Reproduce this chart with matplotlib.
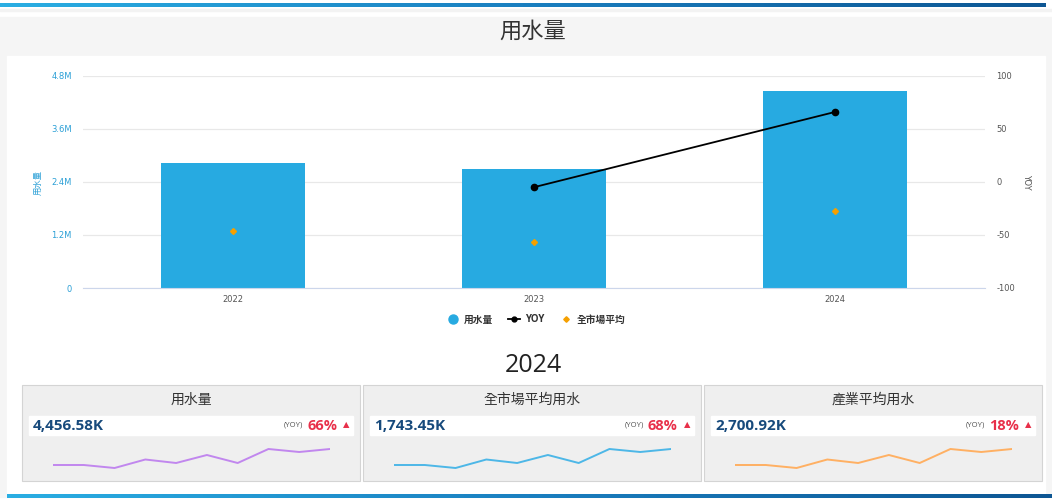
import numpy as np
import matplotlib
matplotlib.use("Agg")
import matplotlib.pyplot as plt
from matplotlib.patches import Rectangle
from matplotlib.colors import LinearSegmentedColormap
from matplotlib.lines import Line2D

plt.rcParams["font.family"] = ["Open Sans", "Noto Sans CJK TC", "DejaVu Sans"]
TICK_FONT = ["DejaVu Sans", "Noto Sans CJK TC"]

W, H = 1052, 500

# main chart data
years = ["2022", "2023", "2024"]
usage = [2823000, 2684700, 4456580]
yoy = [np.nan, -4.9, 66]
market_avg = [1284000, 1037800, 1743450]
usage_ticks = [0, 1.2e6, 2.4e6, 3.6e6, 4.8e6]
usage_tick_labels = ["0", "1.2M", "2.4M", "3.6M", "4.8M"]
yoy_ticks = [-100, -50, 0, 50, 100]

# KPI cards
card_titles = ["用水量", "全市場平均用水", "產業平均用水"]
card_values = ["4,456.58K", "1,743.45K", "2,700.92K"]
card_yoy = ["66%", "68%", "18%"]
spark_values = [5, 5, 2, 10.5, 7, 15, 7, 21, 18, 21]
spark_colors = ["#c187ee", "#4db7e7", "#ffb063"]

BAR = "#27aae1"
ORANGE = "#f5a000"
NAVY = "#174a7c"
RED = "#e8304a"

fig = plt.figure(figsize=(W / 100, H / 100), dpi=100)
fig.patch.set_facecolor("white")


def fx(x):
    return x / W


def fy(y):
    return 1 - y / H


def box(x0, y0, x1, y1, **kw):
    kw.setdefault("zorder", -1)
    fig.patches.append(Rectangle((fx(x0), fy(y1)), (x1 - x0) / W, (y1 - y0) / H,
                                 transform=fig.transFigure, **kw))


def axes_px(x0, y0, x1, y1):
    return fig.add_axes([fx(x0), fy(y1), (x1 - x0) / W, (y1 - y0) / H])


grad = LinearSegmentedColormap.from_list("g", ["#2aaee3", "#1a7fc0", "#0d5693"])


def gradient_bar(x0, y0, x1, y1):
    a = axes_px(x0, y0, x1, y1)
    a.imshow(np.linspace(0, 1, 256)[None, :], aspect="auto", cmap=grad)
    a.axis("off")


# page background pieces
gradient_bar(0, 3, 1046, 7)
box(0, 9, 1052, 11, color="#f3f3f3", zorder=-3)
box(0, 17, 1052, 497, color="#f5f5f5", zorder=-3)
box(7, 56, 1045, 497, color="white", zorder=-2)
gradient_bar(7, 494, 1052, 498)

fig.text(fx(533), fy(32), "用水量", ha="center", va="center", fontsize=16, color="#333333")

# main combo chart
ax = axes_px(83, 76, 985, 288)
ax.set_facecolor("none")
x = np.arange(len(years))
ax.bar(x, usage, width=0.48, color=BAR, zorder=2)
ax.plot(x, market_avg, "D", color=ORANGE, ms=3, zorder=4)
ax.set_xlim(-0.5, 2.5)
ax.set_ylim(0, 4.8e6)
ax.set_xticks(x)
ax.set_yticks(usage_ticks)
ax.grid(axis="y", color="#e8e8e8", lw=0.9)
ax.set_axisbelow(True)
for s in ["top", "left", "right"]:
    ax.spines[s].set_visible(False)
ax.spines["bottom"].set_color("#ccd6eb")
ax.tick_params(axis="y", length=0, labelsize=6, labelcolor="#2a9fd6", pad=8)
ax.tick_params(axis="x", length=0, labelsize=6, labelcolor="#555555", pad=5)
ax.set_xticklabels(years, family=TICK_FONT)
ax.set_yticklabels(usage_tick_labels, family=TICK_FONT)
ax.set_ylabel("用水量", fontsize=6, color="#2a9fd6", labelpad=6)

ax2 = ax.twinx()
ax2.plot(x, yoy, "o-", color="black", lw=1.3, ms=4.5, zorder=5)
ax2.set_ylim(-100, 100)
ax2.set_yticks(yoy_ticks)
for s in ax2.spines.values():
    s.set_visible(False)
ax2.tick_params(axis="y", length=0, labelsize=6, labelcolor="#555555", pad=8)
ax2.set_yticklabels([str(t) for t in yoy_ticks], family=TICK_FONT)
ax2.set_ylabel("YOY", fontsize=6, color="#555555", rotation=270, labelpad=12,
               family=TICK_FONT)

handles = [
    Line2D([], [], marker="o", ls="none", color=BAR, ms=6.5),
    Line2D([], [], marker="o", color="black", lw=1.3, ms=3.5),
    Line2D([], [], marker="D", ls="none", color=ORANGE, ms=2.8),
]
fig.legend(handles, ["用水量", "YOY", "全市場平均"], loc="center",
           bbox_to_anchor=(fx(536), fy(320)), ncol=3, frameon=False,
           prop={"size": 7, "weight": "bold"}, handlelength=1.2,
           handletextpad=0.5, columnspacing=1.6, labelcolor="#333333")

fig.text(fx(533), fy(365), "2024", ha="center", va="center", fontsize=18, color="#222222")

# KPI cards
card_left = [22, 363, 704]
for i, L in enumerate(card_left):
    box(L, 385, L + 338, 481, facecolor="#efefef", edgecolor="#d4d4d4", lw=0.8)
    box(L + 7, 416, L + 331, 435, color="white", zorder=-0.5)
    fig.text(fx(L + 169), fy(400), card_titles[i], ha="center", va="center",
             fontsize=10, color="#333333")
    fig.text(fx(L + 11), fy(425.5), card_values[i], ha="left", va="center",
             fontsize=11, weight="bold", color=NAVY)
    fig.text(fx(L + 281), fy(424.5), "(YOY)", ha="right", va="center",
             fontsize=5.5, color="#555555")
    fig.text(fx(L + 285), fy(425.5), card_yoy[i], ha="left", va="center",
             fontsize=10.5, weight="bold", color=RED)
    fig.text(fx(L + 324), fy(424.5), "▲", ha="center", va="center",
             fontsize=6, color=RED, family=["DejaVu Sans"])

    sp = axes_px(L + 31, 445, L + 308, 470)
    sp.plot(np.arange(len(spark_values)), spark_values, color=spark_colors[i], lw=1.4)
    sp.set_xlim(0, len(spark_values) - 1)
    sp.set_ylim(0, 25)
    sp.axis("off")

fig.savefig("out.png", dpi=100)
